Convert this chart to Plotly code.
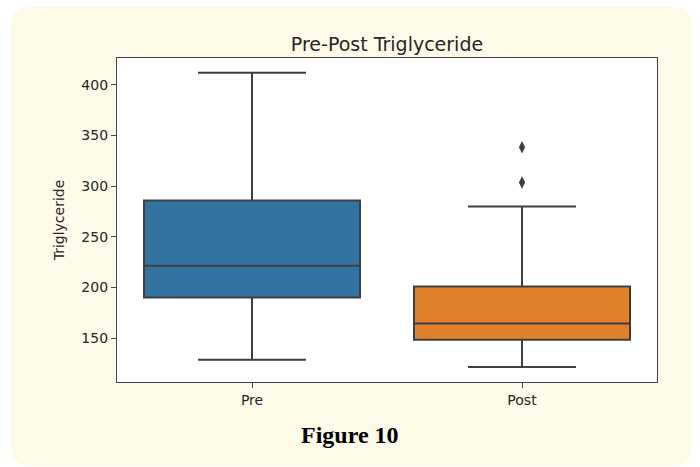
import plotly.graph_objects as go

# ---- data ----
groups = ["Pre", "Post"]
q1 = [190.0, 148.3]
median = [221.3, 164.5]
q3 = [285.8, 200.9]
lower_whisker = [128.5, 121.3]
upper_whisker = [412.0, 280.0]
outlier_group = ["Post", "Post"]
outlier_values = [338.5, 303.6]
y_ticks = [150, 200, 250, 300, 350, 400]

colors = ["#3274A1", "#E1812C"]
edge = "#3f3f3f"

W, H = 700, 467
ML, MR, MT, MB = 117, 43, 58, 85
PW, PH = W - ML - MR, H - MT - MB


def xp(px):
    return (px - ML) / PW


def yp(py):
    return (H - MB - py) / PH


def rounded_path(x0, y0, x1, y1, r):
    pts = [
        ("M", [(x0 + r, y0)]),
        ("L", [(x1 - r, y0)]),
        ("Q", [(x1, y0), (x1, y0 + r)]),
        ("L", [(x1, y1 - r)]),
        ("Q", [(x1, y1), (x1 - r, y1)]),
        ("L", [(x0 + r, y1)]),
        ("Q", [(x0, y1), (x0, y1 - r)]),
        ("L", [(x0, y0 + r)]),
        ("Q", [(x0, y0), (x0 + r, y0)]),
    ]
    s = ""
    for cmd, ps in pts:
        s += cmd + " " + " ".join(f"{xp(a):.5f},{yp(b):.5f}" for a, b in ps) + " "
    return s + "Z"


fig = go.Figure()

for i, g in enumerate(groups):
    fig.add_trace(go.Box(
        x=[g],
        q1=[q1[i]], median=[median[i]], q3=[q3[i]],
        lowerfence=[lower_whisker[i]], upperfence=[upper_whisker[i]],
        fillcolor=colors[i],
        line=dict(color=edge, width=2),
        whiskerwidth=0.5,
        width=0.8,
        boxpoints=False,
        showlegend=False,
        hoverinfo="skip",
    ))

fig.add_trace(go.Scatter(
    x=outlier_group, y=outlier_values, mode="markers",
    marker=dict(symbol="diamond-tall", size=9, color=edge),
    showlegend=False, hoverinfo="skip",
))

fig.update_layout(
    width=W, height=H,
    margin=dict(l=ML, r=MR, t=MT, b=MB),
    paper_bgcolor="white",
    plot_bgcolor="white",
    font=dict(family="DejaVu Sans", color="#262626"),
    title=dict(text="Pre-Post Triglyceride", xref="container", x=387 / W, xanchor="center",
               yref="container", y=1 - 44 / H, yanchor="middle",
               font=dict(size=19, family="DejaVu Sans", color="#262626")),
    shapes=[
        dict(type="path", xref="paper", yref="paper",
             path=rounded_path(11, 7, 692, 466, 20),
             fillcolor="#FEFAE8", line=dict(width=0), layer="below"),
        dict(type="rect", xref="paper", yref="paper", x0=0, x1=1, y0=0, y1=1,
             fillcolor="white", line=dict(width=0), layer="below"),
    ],
    annotations=[
        dict(text="<b>Figure 10</b>", xref="paper", yref="paper",
             x=xp(350), y=yp(435), xanchor="center", yanchor="middle",
             showarrow=False,
             font=dict(family="Liberation Serif", size=24, color="black")),
    ],
)

fig.update_xaxes(
    type="category", categoryorder="array", categoryarray=groups,
    range=[-0.5, 1.5],
    showline=True, linecolor="#444444", linewidth=1.3, mirror=True,
    ticks="outside", ticklen=5, tickwidth=1.2, tickcolor="#444444",
    tickfont=dict(size=14, color="#262626"),
    showgrid=False, zeroline=False,
)
fig.update_yaxes(
    range=[106.6, 426.6],
    tickvals=y_ticks,
    showline=True, linecolor="#444444", linewidth=1.3, mirror=True,
    ticks="outside", ticklen=5, tickwidth=1.2, tickcolor="#444444",
    tickfont=dict(size=14, color="#262626"),
    showgrid=False, zeroline=False,
    title=dict(text="Triglyceride", font=dict(size=14, color="#262626"), standoff=13),
)

fig.write_html("out.html")
